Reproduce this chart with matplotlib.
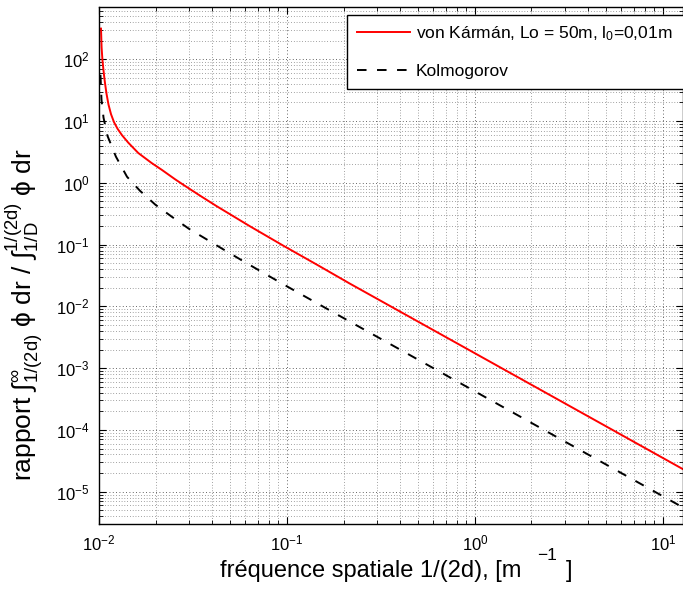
import matplotlib
matplotlib.use("Agg")
import matplotlib.pyplot as plt
from matplotlib.ticker import LogLocator, NullFormatter

plt.rcParams['font.family'] = ['Liberation Sans', 'DejaVu Sans']
plt.rcParams['mathtext.fontset'] = 'custom'
plt.rcParams['mathtext.rm'] = 'Liberation Sans'
plt.rcParams['mathtext.it'] = 'Liberation Sans:italic'
plt.rcParams['mathtext.bf'] = 'Liberation Sans:bold'
plt.rcParams['mathtext.sf'] = 'Liberation Sans'

# ---- data ----
freq_vk = [0.010248, 0.010324, 0.010426, 0.010554, 0.010736, 0.010962, 0.011235,
           0.011585, 0.012021, 0.012547, 0.013255, 0.014322, 0.016184, 0.019068,
           0.021556, 0.02535, 0.02808, 0.03445, 0.04227, 0.06355,
           0.09557, 0.1439, 0.2163, 12.78]
ratio_vk = [313, 154, 98.5, 67.8, 43.4, 27.7, 18.4,
            12.9, 9.56, 7.50, 5.89, 4.45, 3.03, 2.086,
            1.624, 1.144, 0.929, 0.620, 0.418, 0.1977,
            0.0960, 0.0475, 0.0233, 2.32e-5]

freq_k = [0.01018, 0.01031, 0.01057, 0.01109, 0.01231, 0.01410, 0.01652, 0.01998,
          0.02444, 0.03012, 0.03699, 0.04624, 0.05906, 0.07713, 0.09638, 0.1187,
          0.1856, 12.78]
ratio_k = [56, 22.1, 11.3, 5.77, 2.64, 1.25, 0.742, 0.440,
           0.281, 0.1797, 0.1237, 0.0823, 0.0530, 0.0331, 0.02247, 0.01571,
           7.34e-3, 5.57e-6]

label_vk = 'von Kármán, Lo = 50m, l$_0$=0,01m'
label_k = 'Kolmogorov'
xlabel_main = 'fréquence spatiale 1/(2d), [m'
xlabel_exp = '−1'
xlabel_close = ']'
ylabel = ('rapport ∫$_{\\mathrm{1/(2d)}}^{\\infty}$ ϕ dr / '
          '∫$_{\\mathrm{1/D}}^{\\mathrm{1/(2d)}}$ ϕ dr')

fig = plt.figure(figsize=(6.83, 5.93), dpi=100)
ax = fig.add_axes([99/683, 1 - 524/593, 1 - 99/683, (524 - 7)/593])

ax.loglog(freq_vk, ratio_vk, color='red', lw=1.4, label=label_vk)
ax.loglog(freq_k, ratio_k, color='black', lw=1.4, dashes=(4.9, 5.4), label=label_k)

ax.set_xlim(0.01, 12.8)
ax.set_ylim(3e-6, 7e2)

ax.xaxis.set_major_locator(LogLocator(base=10, numticks=20))
ax.yaxis.set_major_locator(LogLocator(base=10, numticks=20))
ax.xaxis.set_minor_locator(LogLocator(base=10, subs=range(2, 10), numticks=50))
ax.yaxis.set_minor_locator(LogLocator(base=10, subs=range(2, 10), numticks=50))
ax.xaxis.set_minor_formatter(NullFormatter())
ax.yaxis.set_minor_formatter(NullFormatter())

ax.grid(True, which='major', color='0.2', lw=0.6, linestyle=(0, (1, 3)))
ax.grid(True, which='minor', color='0.3', lw=0.5, linestyle=(0, (1, 3)))

ax.tick_params(which='both', direction='in', top=True, right=True, labelsize=12)
ax.tick_params(which='major', length=5, width=0.8, pad=7)
ax.tick_params(which='minor', length=3, width=0.6)
for s in ax.spines.values():
    s.set_linewidth(1.0)

# x label (raised exponent as in the reference)
fig.text(220/683, 1 - 577/593, xlabel_main, fontsize=17, ha='left', va='baseline')
fig.text(537/683, 1 - 560/593, xlabel_exp, fontsize=12.5, ha='left', va='baseline')
fig.text(566/683, 1 - 577/593, xlabel_close, fontsize=17, ha='left', va='baseline')

ax.set_ylabel(ylabel, fontsize=19)
ax.yaxis.set_label_coords((45 - 99)/584, (524 - 315)/517)

leg = ax.legend(loc='upper left',
                bbox_to_anchor=(347/683, 0.5, 0.6, (1 - 15/593) - 0.5),
                bbox_transform=fig.transFigure, mode='expand',
                fontsize=12.5, frameon=True,
                fancybox=False, edgecolor='black', framealpha=1,
                handlelength=3.1, handletextpad=0.3, labelspacing=1.2,
                borderpad=0.55, borderaxespad=0)
leg.get_frame().set_linewidth(1.0)

fig.savefig('out.png', dpi=100)
